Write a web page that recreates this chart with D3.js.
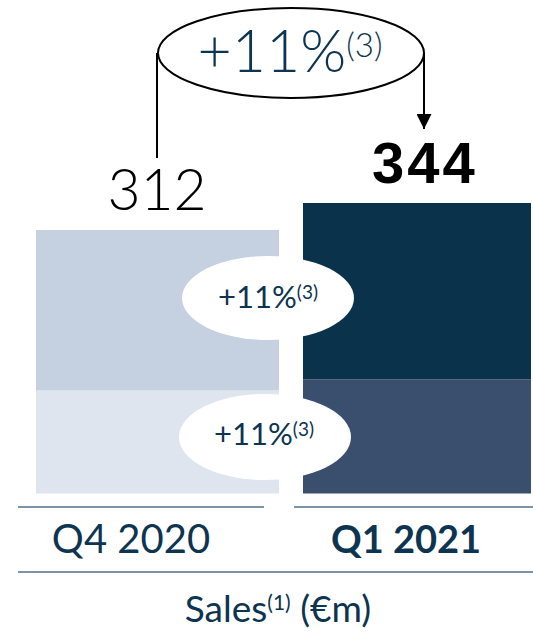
<!DOCTYPE html>
<html><head><meta charset="utf-8">
<script src="https://cdn.jsdelivr.net/npm/d3@7"></script>
<style>body{margin:0;background:#fff}svg{display:block}</style>
</head><body>
<svg id="c" width="533" height="637"></svg>
<script>
const categories = ["Q4 2020", "Q1 2021"];
const bottomSeg = [122, 135];
const topSeg = [190, 209];
const totals = [312, 344];
const growthLabel = "+11%";
const growthNote = "(3)";
const axisTitle = "Sales";
const axisNote = "(1)";
const axisUnit = " (€m)";

const svg = d3.select("#c");
const font = "Lato, 'Open Sans', sans-serif";
const navy = "#0d3450";

const y = d3.scaleLinear().domain([0, 344]).range([493.5, 203]);
const xExt = d3.scaleOrdinal().domain(categories).range([[36, 279], [303, 531]]);
const colors = [["#dfe5ef", "#c5d0e1"], ["#3a4f6e", "#0b324b"]];

const data = categories.map((c, i) => ({c, i, b: bottomSeg[i], t: topSeg[i]}));
data.forEach(d => {
  const [x0, x1] = xExt(d.c);
  svg.append("rect").attr("x", x0).attr("width", x1 - x0)
    .attr("y", y(d.b)).attr("height", y(0) - y(d.b)).attr("fill", colors[d.i][0]);
  svg.append("rect").attr("x", x0).attr("width", x1 - x0)
    .attr("y", y(d.b + d.t)).attr("height", y(d.b) - y(d.b + d.t)).attr("fill", colors[d.i][1]);
});

// white ellipses with growth labels
function growth(cx, cy, rx, ry, tx, ty) {
  svg.append("ellipse").attr("cx", cx).attr("cy", cy).attr("rx", rx).attr("ry", ry).attr("fill", "#fff");
  const t = svg.append("text").attr("x", tx).attr("y", ty).attr("text-anchor", "middle")
    .attr("font-family", font).attr("font-weight", 400).attr("font-size", 31).attr("fill", navy);
  t.append("tspan").text(growthLabel);
  t.append("tspan").attr("font-size", 19).attr("dy", -9).text(growthNote);
}
growth(268, 298, 86, 42, 268, 308);
growth(265, 437, 86, 43, 264, 445);

// totals
svg.append("text").attr("x", 157).attr("y", 210).attr("text-anchor", "middle")
  .attr("font-family", font).attr("font-weight", 300).attr("font-size", 57).attr("fill", "#000").text(totals[0]);
svg.append("text").attr("x", 425).attr("y", 183).attr("text-anchor", "middle")
  .attr("font-family", "'Liberation Sans', Arial, sans-serif").attr("font-weight", 700).attr("font-size", 58)
  .attr("letter-spacing", 3).attr("fill", "#000").text(totals[1]);

// top connector
svg.append("defs").append("marker").attr("id", "arr").attr("viewBox", "0 0 10 10")
  .attr("refX", 10).attr("refY", 5).attr("markerWidth", 15).attr("markerHeight", 15)
  .attr("markerUnits", "userSpaceOnUse").attr("orient", "auto")
  .append("path").attr("d", "M0,0L10,5L0,10Z").attr("fill", "#000");
svg.append("line").attr("x1", 157).attr("x2", 157).attr("y1", 53).attr("y2", 158).attr("stroke", "#000").attr("stroke-width", 2);
svg.append("line").attr("x1", 424).attr("x2", 424).attr("y1", 53).attr("y2", 129).attr("stroke", "#000").attr("stroke-width", 2).attr("marker-end", "url(#arr)");
svg.append("ellipse").attr("cx", 291).attr("cy", 53).attr("rx", 133).attr("ry", 45).attr("fill", "#fff").attr("stroke", "#000").attr("stroke-width", 2);
const tt = svg.append("text").attr("x", 290).attr("y", 72).attr("text-anchor", "middle")
  .attr("font-family", font).attr("font-weight", 300).attr("font-size", 59).attr("fill", navy);
tt.append("tspan").text(growthLabel);
tt.append("tspan").attr("font-size", 33).attr("dy", -15).text(growthNote);

// axis lines
const lc = "#7d93a8";
svg.append("line").attr("x1", 18).attr("x2", 264).attr("y1", 507).attr("y2", 507).attr("stroke", lc).attr("stroke-width", 2);
svg.append("line").attr("x1", 294).attr("x2", 533).attr("y1", 507).attr("y2", 507).attr("stroke", lc).attr("stroke-width", 2);
svg.append("line").attr("x1", 18).attr("x2", 533).attr("y1", 572).attr("y2", 572).attr("stroke", lc).attr("stroke-width", 2);

// category labels
svg.append("text").attr("x", 131).attr("y", 553).attr("text-anchor", "middle")
  .attr("font-family", font).attr("font-weight", 400).attr("font-size", 40).attr("fill", navy).text(categories[0]);
svg.append("text").attr("x", 406).attr("y", 553).attr("text-anchor", "middle")
  .attr("font-family", font).attr("font-weight", 700).attr("font-size", 38).attr("fill", navy).text(categories[1]);

// axis title
const at = svg.append("text").attr("x", 278).attr("y", 622).attr("text-anchor", "middle")
  .attr("font-family", font).attr("font-weight", 400).attr("font-size", 37).attr("fill", navy);
at.append("tspan").text(axisTitle);
at.append("tspan").attr("font-size", 21).attr("dy", -12).text(axisNote);
at.append("tspan").attr("dy", 12).text(axisUnit);
</script>
</body></html>
